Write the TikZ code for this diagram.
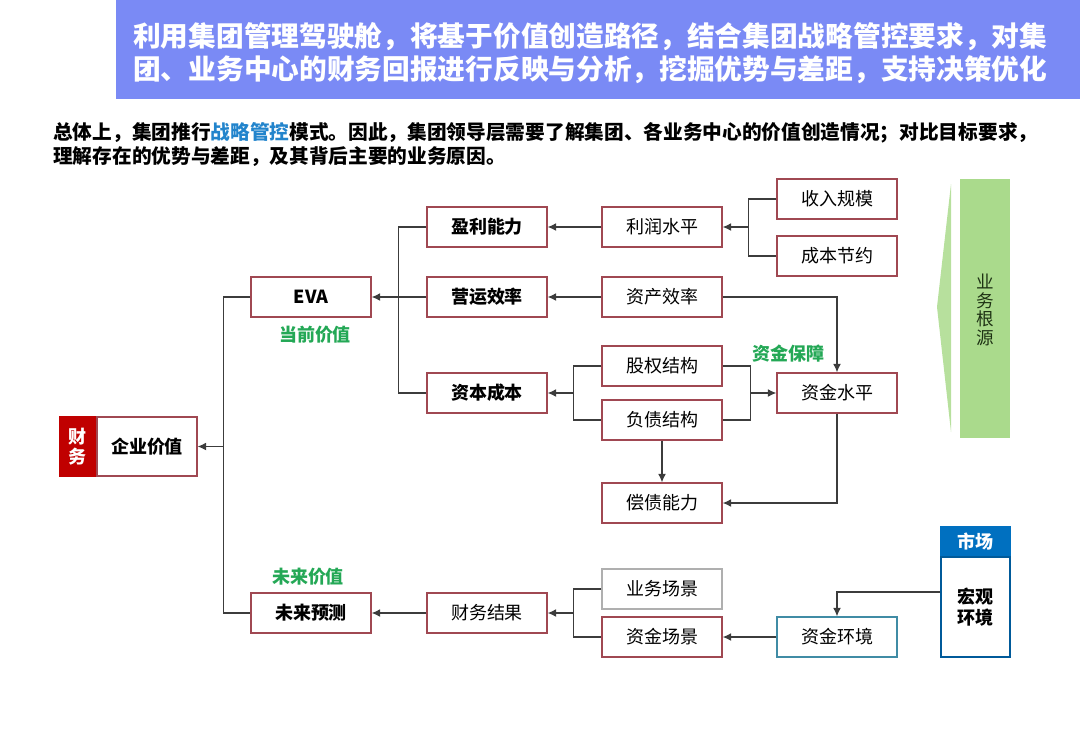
\documentclass[tikz,border=0pt]{standalone}
\usepackage{fontspec}
\setmainfont{Noto Sans CJK SC}
\usepackage{tikz}
\usetikzlibrary{arrows.meta, positioning, calc}
\definecolor{headcolor}{RGB}{122,138,245}
\definecolor{boxred}{RGB}{160,72,82}
\definecolor{tagred}{RGB}{192,0,0}
\definecolor{labelgreen}{RGB}{36,168,86}
\definecolor{rootgreen}{RGB}{170,218,140}
\definecolor{linegray}{RGB}{60,60,60}
\definecolor{keyblue}{RGB}{34,132,204}
\definecolor{marketblue}{RGB}{0,112,192}
\definecolor{envteal}{RGB}{64,140,165}
\definecolor{scenegray}{RGB}{175,175,175}
\definecolor{roottext}{RGB}{30,50,20}

\begin{document}
\begin{tikzpicture}[
    x=0.7113pt, y=-0.7113pt,
    box/.style={rectangle, draw=boxred, line width=0.9pt, inner sep=0pt, minimum width=85.4pt, minimum height=28.5pt, font={\fontsize{12.8pt}{15pt}\selectfont}},
    boldbox/.style={box, font={\fontsize{12.8pt}{15pt}\selectfont\bfseries}},
    greylabel/.style={font={\fontsize{12.8pt}{15pt}\selectfont\bfseries}, text=labelgreen, inner sep=0pt},
    line/.style={draw=linegray, line width=0.9pt},
    arrow/.style={line, -{Latex[length=6pt,width=5.6pt]}}
]
    \useasboundingbox (0,0) rectangle (1080,748);

    % Title banner
    \fill[headcolor] (116,0) rectangle (1080,99);
    \node[anchor=west, text=white, inner sep=0pt, font={\fontsize{19.7pt}{22pt}\selectfont\bfseries}] (title1) at (133,37) {利用集团管理驾驶舱，将基于价值创造路径，结合集团战略管控要求，对集};
    \node[anchor=west, text=white, inner sep=0pt, font={\fontsize{19.7pt}{22pt}\selectfont\bfseries}] (title2) at (133,70) {团、业务中心的财务回报进行反映与分析，挖掘优势与差距，支持决策优化};

    % Intro text
    \node[anchor=west, inner sep=0pt, font={\fontsize{14pt}{17pt}\selectfont\bfseries}] (intro1) at (53,133) {总体上，集团推行\textcolor{keyblue}{战略管控}模式。因此，集团领导层需要了解集团、各业务中心的价值创造情况；对比目标要求，};
    \node[anchor=west, inner sep=0pt, font={\fontsize{14pt}{17pt}\selectfont\bfseries}] (intro2) at (53,157) {理解存在的优势与差距，及其背后主要的业务原因。};

    % Enterprise value
    \node[boldbox, minimum width=71.1pt, minimum height=42pt] (qiye) at (147,446.5) {企业价值};
    \node[box, fill=tagred, draw=tagred, anchor=east, minimum width=25.6pt, minimum height=42pt, align=center, text=white, font={\fontsize{12.8pt}{14.2pt}\selectfont\bfseries}] (caiwutag) at (qiye.west) {财\\务};

    % Current value branch
    \node[boldbox] (eva) at (311,297) {EVA};
    \node[greylabel] (dangqian) at (315,335) {当前价值};
    \node[boldbox] (yingli) at (487,227) {盈利能力};
    \node[boldbox] (yingyun) at (487,297) {营运效率};
    \node[boldbox] (ziben) at (487,393) {资本成本};
    \node[box] (lirun) at (662,227) {利润水平};
    \node[box] (zichan) at (662,297) {资产效率};
    \node[box] (guquan) at (662,366) {股权结构};
    \node[box] (fuzhai) at (662,420) {负债结构};
    \node[box] (changzhai) at (662,503) {偿债能力};
    \node[box] (shouru) at (837,199) {收入规模};
    \node[box] (chengben) at (837,256) {成本节约};
    \node[box] (zijin) at (837,393) {资金水平};
    \node[greylabel] (baozhang) at (788,354) {资金保障};

    % Future value branch
    \node[boldbox] (weilai) at (311,613) {未来预测};
    \node[greylabel] (weilaijz) at (308,577) {未来价值};
    \node[box] (caiwu) at (487,613) {财务结果};
    \node[box, draw=scenegray] (yewu) at (662,589) {业务场景};
    \node[box] (zjcj) at (662,637) {资金场景};
    \node[box, draw=envteal] (zjhj) at (837,637) {资金环境};

    % Market
    \node[box, draw=marketblue, fill=marketblue, minimum width=49pt, minimum height=21.3pt, text=white, font={\fontsize{12.8pt}{15pt}\selectfont\bfseries}] (shichang) at (975.5,542) {市场};
    \node[box, draw=marketblue!80!black, minimum width=49pt, minimum height=71.1pt, align=center, font={\fontsize{12.8pt}{15pt}\selectfont\bfseries}] (hongguan) at (975.5,607) {宏观\\环境};

    % Business root bar
    \fill[rootgreen!85] (951,184) -- (937,307) -- (951,432) -- cycle;
    \fill[rootgreen] (960,179) rectangle (1010,438);
    \node[align=center, inner sep=0pt, text=roottext, font={\fontsize{12.5pt}{13.2pt}\selectfont}] (genyuan) at (985,310) {业\\务\\根\\源};

    % Connectors
    \draw[line] (eva.west) -- ++(-27,0) coordinate (t0) |- (weilai.west);
    \draw[arrow] (t0 |- qiye.east) -- (qiye.east);
    \draw[line] (yingli.west) -- ++(-28,0) coordinate (t1) |- (ziben.west);
    \draw[arrow] (yingyun.west) -- (eva.east);
    \draw[arrow] (lirun.west) -- (yingli.east);
    \draw[arrow] (zichan.west) -- (yingyun.east);
    \draw[line] (guquan.west) -- ++(-28,0) coordinate (t2) |- (fuzhai.west);
    \draw[arrow] (t2 |- ziben.east) -- (ziben.east);
    \draw[line] (shouru.west) -- ++(-28,0) coordinate (t3) |- (chengben.west);
    \draw[arrow] (t3 |- lirun.east) -- (lirun.east);
    \draw[line] (guquan.east) -- ++(28,0) coordinate (t4) |- (fuzhai.east);
    \draw[arrow] (t4 |- zijin.west) -- (zijin.west);
    \draw[arrow] (zichan.east) -| (zijin.north);
    \draw[arrow] (zijin.south) |- (changzhai.east);
    \draw[arrow] (fuzhai.south) -- (changzhai.north);
    \draw[arrow] (caiwu.west) -- (weilai.east);
    \draw[line] (yewu.west) -- ++(-28,0) coordinate (t5) |- (zjcj.west);
    \draw[arrow] (t5 |- caiwu.east) -- (caiwu.east);
    \draw[arrow] (zjhj.west) -- (zjcj.east);
    \draw[arrow] ($(hongguan.west)+(0,-15)$) -| (zjhj.north);

\end{tikzpicture}
\end{document}
